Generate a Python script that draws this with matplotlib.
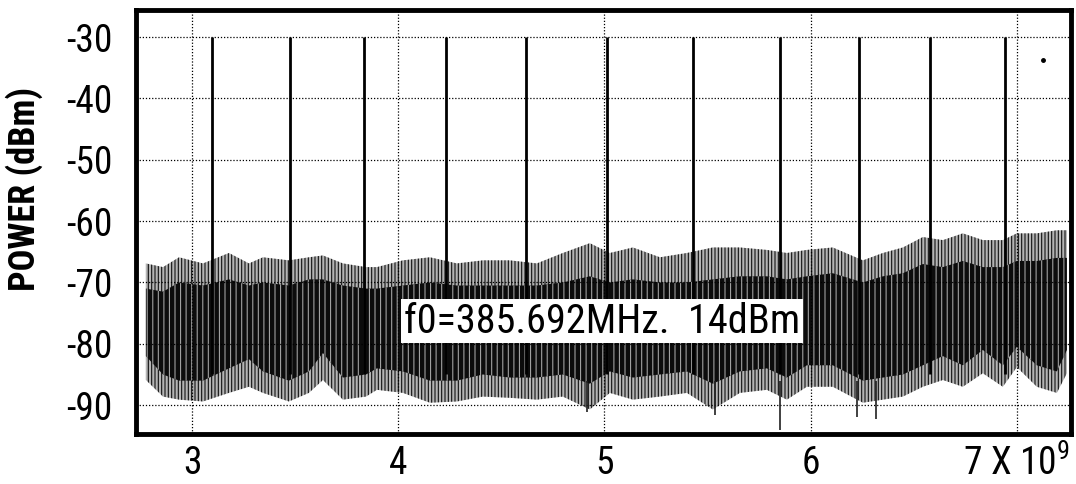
#!/usr/bin/env python3
"""
Spectrum of the harmonics of a 385.692 MHz source, 2.7-7.3 GHz.
"""

import matplotlib
matplotlib.use("Agg")
import matplotlib.pyplot as plt
from matplotlib import font_manager
import numpy as np

# noise floor envelope (GHz, dBm)
noise_ghz = [2.775, 2.858, 2.936, 3.052, 3.178, 3.275, 3.343, 3.469, 3.566, 3.634,
             3.731, 3.843, 3.896, 4.022, 4.153, 4.284, 4.410, 4.541, 4.672, 4.798,
             4.929, 5.026, 5.138, 5.269, 5.400, 5.526, 5.657, 5.788, 5.885, 5.982,
             6.108, 6.254, 6.351, 6.448, 6.545, 6.642, 6.739, 6.836, 6.933, 7.001,
             7.098, 7.195, 7.244]
peak_top = [-66.9, -67.5, -65.9, -66.9, -65.2, -66.9, -65.9, -66.4, -65.9, -65.6,
            -66.9, -67.5, -67.5, -66.4, -65.9, -66.9, -66.4, -66.4, -66.9, -65.2,
            -63.6, -65.2, -64.3, -65.9, -65.2, -64.3, -64.3, -64.7, -65.2, -64.7,
            -64.3, -66.4, -65.2, -64.3, -62.6, -63.1, -62.0, -63.1, -63.1, -62.0,
            -62.0, -61.5, -61.5]
peak_bot = [-85.9, -88.6, -89.1, -89.4, -88.0, -87.0, -88.0, -89.4, -88.0, -85.9,
            -89.1, -88.6, -87.5, -88.0, -89.6, -89.4, -88.6, -88.8, -89.1, -88.6,
            -90.7, -88.0, -89.1, -88.6, -88.0, -90.7, -88.0, -87.5, -89.1, -87.0,
            -87.0, -89.6, -89.1, -88.6, -87.0, -85.9, -87.0, -84.8, -87.0, -83.8,
            -87.0, -88.0, -84.8]
core_top = [-71, -71.5, -70, -70.5, -69.5, -70.5, -70, -70.5, -69.5, -69.5,
            -70.5, -71, -71, -70.5, -70, -70.5, -70.5, -70.5, -70.5, -70,
            -69, -70, -69.5, -70, -70, -69.5, -69, -69, -69.5, -69,
            -68.5, -70, -69, -68.5, -67, -67.5, -66.5, -67.5, -67.5, -66.5,
            -66.5, -66, -66]
core_bot = [-82, -85, -86, -86, -84, -82.5, -84.5, -86, -84.5, -81.5,
            -85.5, -85, -84, -84.5, -86, -86, -85, -85.5, -85.5, -85,
            -86.5, -84.5, -85.5, -85, -84.5, -86.5, -84.5, -84, -85.5, -83.5,
            -83.5, -86, -85.5, -85, -83.5, -82, -83.5, -81, -83.5, -80.5,
            -83.5, -84.5, -81]

# harmonic lines
spike_ghz = [3.094, 3.476, 3.835, 4.232, 4.618, 5.012, 5.429, 5.853, 6.233, 6.580, 6.944]
spike_dbm = [-30, -30, -30, -30, -30, -30, -30, -30, -30, -30, -30]

# a few single noise points that drop below -90
dip_ghz = [4.914, 5.536, 5.853, 6.225, 6.317]
dip_dbm = [-91.1, -91.6, -94.0, -92.0, -92.3]

x_ticks = [3, 4, 5, 6, 7]
x_tick_labels = ["3", "4", "5", "6", r"7 X 10$^{\mathregular{9}}$"]
y_ticks = [-30, -40, -50, -60, -70, -80, -90]

note = "f0=385.692MHz.  14dBm"


def pick_font():
    names = {f.name for f in font_manager.fontManager.ttflist}
    for name in ["Liberation Sans Narrow", "Roboto Condensed", "Liberation Sans", "Arial"]:
        if name in names:
            return name
    return "DejaVu Sans"


def main():
    family = pick_font()
    narrow = "Narrow" in family or "Condensed" in family
    plt.rcParams["font.family"] = [family, "DejaVu Sans"]
    plt.rcParams["mathtext.fontset"] = "custom"
    plt.rcParams["mathtext.rm"] = family
    plt.rcParams["axes.unicode_minus"] = False
    plt.rcParams["hatch.linewidth"] = 0.8

    tick_size = 27 if narrow else 22
    label_size = 26 if narrow else 21
    note_size = 29 if narrow else 24

    hz = 1e9
    nx = np.array(noise_ghz) * hz

    fig = plt.figure(figsize=(10.76, 4.84), dpi=100)
    ax = fig.add_axes([0.1264, 0.1033, 0.8690, 0.8760])

    # outer fringe of the noise, then the dense core
    ax.fill_between(nx, peak_bot, peak_top, facecolor="#b4b4b4", edgecolor="#111111",
                    hatch="|||||", linewidth=0, zorder=2)
    ax.fill_between(nx, core_bot, core_top, facecolor="#0c0c0c", edgecolor="#a0a0a0",
                    hatch="|||", linewidth=0, zorder=2.2)

    ax.vlines(np.array(spike_ghz) * hz, -85, spike_dbm, color="black", linewidth=2, zorder=3)
    ax.vlines(np.array(dip_ghz) * hz, -86, dip_dbm, color="#202020", linewidth=1.2, zorder=3)
    ax.plot([7.128 * hz], [-33.8], "o", color="black", markersize=2.5, zorder=3)

    ax.text(4.988 * hz, -76.3, note, fontsize=note_size, ha="center", va="center", zorder=5,
            bbox=dict(facecolor="white", edgecolor="none", pad=2))

    ax.set_xlim(2.727 * hz, 7.264 * hz)
    ax.set_ylim(-94.7, -25.6)
    ax.set_xticks(np.array(x_ticks) * hz)
    ax.set_xticklabels(x_tick_labels)
    ax.set_yticks(y_ticks)
    ax.tick_params(axis="both", length=0, labelsize=tick_size)
    ax.tick_params(axis="y", pad=17)
    ax.tick_params(axis="x", pad=8)

    ax.set_ylabel("POWER (dBm)", fontsize=label_size, fontweight="bold")
    ax.yaxis.set_label_coords(-0.0995, 0.578)

    ax.grid(True, linestyle=(0, (1, 1.5)), linewidth=0.9, color="black")
    ax.set_axisbelow(False)
    for side in ax.spines.values():
        side.set_linewidth(3.5)
        side.set_zorder(6)

    fig.savefig("out.png", dpi=100)


if __name__ == "__main__":
    main()
